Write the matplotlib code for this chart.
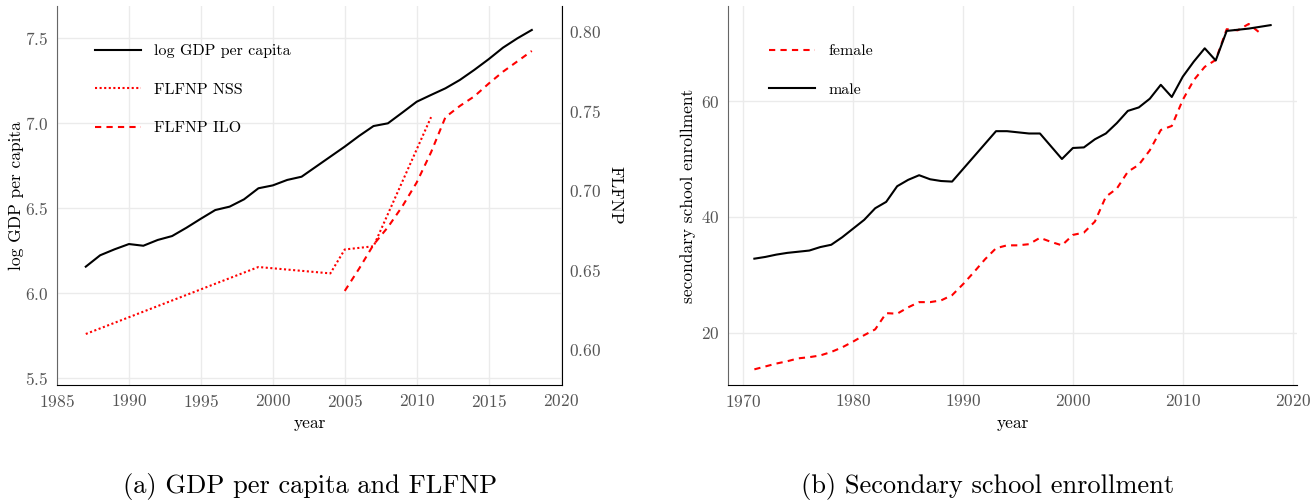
import matplotlib
matplotlib.use("Agg")
import matplotlib.pyplot as plt

plt.rcParams['font.family'] = ['cmr10', 'DejaVu Serif']
plt.rcParams['axes.formatter.use_mathtext'] = True
plt.rcParams['mathtext.fontset'] = 'cm'

# panel (a): log GDP per capita and FLFNP
gdp_years = list(range(1987, 2019))
log_gdp = [6.155, 6.222, 6.257, 6.288, 6.278, 6.312, 6.335, 6.384, 6.437, 6.488,
           6.508, 6.551, 6.616, 6.633, 6.665, 6.684, 6.743, 6.802, 6.861, 6.924,
           6.982, 6.998, 7.061, 7.125, 7.165, 7.204, 7.253, 7.312, 7.375, 7.443,
           7.498, 7.547]
nss_years = [1987, 1999, 2004, 2005, 2007, 2011]
flfnp_nss = [0.610, 0.652, 0.648, 0.663, 0.665, 0.746]
ilo_years = list(range(2005, 2019))
flfnp_ilo = [0.637, 0.651, 0.666, 0.677, 0.690, 0.705, 0.724, 0.746, 0.753,
             0.759, 0.767, 0.7745, 0.781, 0.7875]

# panel (b): secondary school enrollment
male_years = list(range(1971, 1990)) + list(range(1993, 1998)) + list(range(1999, 2019))
male = [32.8, 33.1, 33.5, 33.8, 34.0, 34.2, 34.8, 35.2, 36.5, 38.0, 39.5, 41.5,
        42.6, 45.3, 46.4, 47.2, 46.5, 46.2, 46.1,
        54.8, 54.8, 54.6, 54.4, 54.4,
        50.0, 51.9, 52.0, 53.4, 54.4, 56.2, 58.3, 58.9, 60.4, 62.8, 60.7, 64.2,
        66.8, 69.1, 67.0, 72.1, 72.3, 72.5, 72.8, 73.1]
female_years = list(range(1971, 2018))
female = [13.7, 14.2, 14.7, 15.1, 15.6, 15.8, 16.1, 16.7, 17.5, 18.5, 19.6, 20.6,
          23.4, 23.3, 24.4, 25.3, 25.3, 25.6, 26.5, 28.4, 30.5, 32.7, 34.6, 35.1,
          35.1, 35.3, 36.4, 35.7, 35.1, 36.9, 37.3, 39.2, 43.5, 44.9, 47.8, 49.0,
          51.5, 55.0, 55.7, 60.2, 63.6, 65.9, 67.1, 72.4, 72.2, 73.3, 71.8]

W, H = 1313, 500
fig = plt.figure(figsize=(W / 100, H / 100), dpi=100)

GRID = '#ebebeb'
TICK = '#555555'
FS_TICK = 12.5
FS_LAB = 12.5
FS_LEG = 11.5
LW = 1.5


def style(ax):
    for s in ax.spines.values():
        s.set_visible(False)
    ax.spines['left'].set_visible(True)
    ax.spines['left'].set_color('#666666')
    ax.spines['bottom'].set_visible(True)
    ax.spines['bottom'].set_color('black')
    ax.grid(True, color=GRID, lw=1.0)
    ax.set_axisbelow(True)
    ax.tick_params(length=0, labelsize=FS_TICK, labelcolor=TICK, pad=6)


def box(x0, y0, x1, y1):
    return [x0 / W, 1 - y1 / H, (x1 - x0) / W, (y1 - y0) / H]


# ---- panel (a)
ax1 = fig.add_axes(box(57, 6, 562, 385))
style(ax1)
l1, = ax1.plot(gdp_years, log_gdp, color='black', lw=LW)
ax1.set_xlim(1985, 2020.1)
ax1.set_ylim(5.459, 7.688)
ax1.set_xticks(range(1985, 2021, 5))
ax1.set_yticks([5.5, 6.0, 6.5, 7.0, 7.5])
ax1.set_xlabel('year', fontsize=FS_LAB, labelpad=4)
ax1.set_ylabel('log GDP per capita', fontsize=FS_LAB, labelpad=1)

ax2 = ax1.twinx()
for s in ax2.spines.values():
    s.set_visible(False)
ax2.spines['right'].set_visible(True)
ax2.spines['right'].set_color('black')
l2, = ax2.plot(nss_years, flfnp_nss, color='red', lw=LW, dashes=(1, 1.2))
l3, = ax2.plot(ilo_years, flfnp_ilo, color='red', lw=LW, dashes=(3, 2.5))
ax2.set_ylim(0.578, 0.8157)
ax2.set_yticks([0.60, 0.65, 0.70, 0.75, 0.80])
ax2.tick_params(length=0, labelsize=FS_TICK, labelcolor=TICK, pad=5)
ax2.set_ylabel('FLFNP', fontsize=FS_LAB, rotation=270, labelpad=16)

fig.legend([l1, l2, l3], ['log GDP per capita', 'FLFNP NSS', 'FLFNP ILO'],
           loc='upper left', bbox_to_anchor=(95 / W, 1 - 44 / H),
           frameon=False, fontsize=FS_LEG, handlelength=2.9, handletextpad=0.8,
           labelspacing=1.52, borderpad=0, borderaxespad=0)

# ---- panel (b)
ax3 = fig.add_axes(box(728, 6, 1297, 385))
style(ax3)
lf, = ax3.plot(female_years, female, color='red', lw=LW, dashes=(3, 2.5))
lm, = ax3.plot(male_years, male, color='black', lw=LW)
ax3.set_xlim(1968.6, 2020.4)
ax3.set_ylim(11.0, 76.4)
ax3.set_xticks(range(1970, 2021, 10))
ax3.set_yticks([20, 40, 60])
ax3.set_xlabel('year', fontsize=FS_LAB, labelpad=4)
ax3.set_ylabel('secondary school enrollment', fontsize=FS_LAB, labelpad=4)
fig.legend([lf, lm], ['female', 'male'],
           loc='upper left', bbox_to_anchor=(769 / W, 1 - 44 / H),
           frameon=False, fontsize=FS_LEG, handlelength=2.9, handletextpad=0.8,
           labelspacing=1.52, borderpad=0, borderaxespad=0)

# captions
fig.text(310 / W, 1 - 486 / H, '(a) GDP per capita and FLFNP',
         fontsize=19, ha='center', va='center')
fig.text(988 / W, 1 - 486 / H, '(b) Secondary school enrollment',
         fontsize=19, ha='center', va='center')

fig.savefig('out.png', dpi=100)
